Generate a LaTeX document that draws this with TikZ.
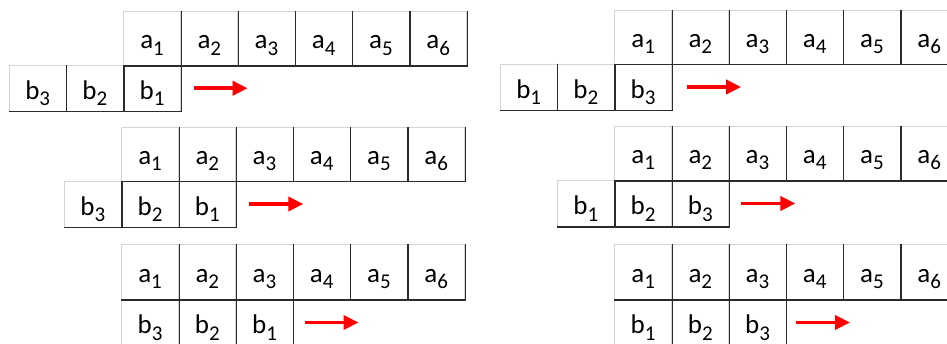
\documentclass[tikz,border=0pt]{standalone}
\usepackage{fontspec}
\setmainfont{Carlito}
\usetikzlibrary{arrows.meta}

\definecolor{gridgray}{HTML}{D4D4D4}
\definecolor{edgedark}{HTML}{2B2B2B}
\definecolor{arrowred}{HTML}{FF0000}

% letter with a lowered index digit
\newcommand\idx[2]{#1\raisebox{-6.5pt}{\fontsize{21}{21}\selectfont #2}}

\tikzset{
  cell/.style={draw=gridgray, line width=1pt, fill=white,
    minimum width=57.2pt, inner sep=0pt, anchor=north west,
    font=\fontsize{27}{27}\selectfont},
  acell/.style={cell, text height=22pt, text depth=2pt},
  bcell/.style={cell, text height=23pt, text depth=1pt},
  rim/.style={draw=edgedark, line width=1.3pt},
  shiftarrow/.style={draw=arrowred, line width=3.6pt,
    -{Triangle[length=15pt,width=14pt]}}
}

% #1 prefix, #2 left of a1, #3 top, #4 a-row height, #5 b-row height,
% #6 column of the first b cell (relative to a1), #7 b labels left to right,
% #8 rightmost b cell, #9 gap before the arrow
\newcommand\seqpair[9]{%
  \foreach \i in {1,...,6}
    \node[acell, minimum height=#4pt] (#1a\i) at ({#2+(\i-1)*57.2}, #3) {\idx{a}{\i}};
  \foreach \k [count=\j from 0] in {#7}
    \node[bcell, minimum height=#5pt] (#1b\k) at ({#2+(#6+\j)*57.2}, {#3+#4}) {\idx{b}{\k}};
  \foreach \n in {a1,a2,a3,a4,a5,a6,b1,b2,b3}
    \draw[rim] (#1\n.north east) -- (#1\n.south east) -- (#1\n.south west);
  \coordinate (#1tail) at ([xshift=#9pt]#1b#8.east);
  \coordinate (#1tip) at ([xshift=54pt]#1tail);
  \draw[shiftarrow] (#1tail) -- (#1tip);
}

\begin{document}
\begin{tikzpicture}[x=1pt, y=-1pt]
  \useasboundingbox (0,0) rectangle (947,343);
  % reversed b, sliding right
  \seqpair{L1}{123}{11}{54}{45.5}{-2}{3,2,1}{1}{12.5}
  \seqpair{L2}{121}{126.5}{54}{46}{-1}{3,2,1}{1}{13}
  \seqpair{L3}{121}{244}{55}{46}{0}{3,2,1}{1}{11}
  % b in order, sliding right
  \seqpair{R1}{614}{9.5}{54}{46}{-2}{1,2,3}{3}{15}
  \seqpair{R2}{614}{125.7}{54.3}{46}{-1}{1,2,3}{3}{12}
  \seqpair{R3}{614}{244}{55}{46}{0}{1,2,3}{3}{9.5}
\end{tikzpicture}
\end{document}
